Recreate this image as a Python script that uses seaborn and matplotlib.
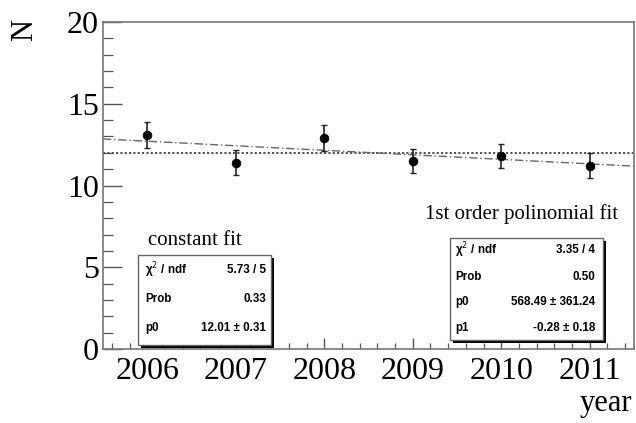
import matplotlib
matplotlib.use("Agg")
import matplotlib.pyplot as plt
import seaborn as sns
import numpy as np
import pandas as pd
from matplotlib.patches import Rectangle
from matplotlib.ticker import MultipleLocator

# ---- data ----
years = [2006, 2007, 2008, 2009, 2010, 2011]
counts = [13.1, 11.4, 12.9, 11.5, 11.8, 11.2]
errors = [0.80, 0.77, 0.78, 0.75, 0.76, 0.77]
const_p0 = 12.01
lin_p0 = 568.49
lin_p1 = -0.27706
xtick_labels = ["2006", "2007", "2008", "2009", "2010", "2011"]
const_stats = [("χ$^{2}$ / ndf", "5.73 / 5"), ("Prob", "0.33"), ("p0", "12.01 ± 0.31")]
lin_stats = [("χ$^{2}$ / ndf", "3.35 / 4"), ("Prob", "0.50"),
             ("p0", "568.49 ± 361.24"), ("p1", "-0.28 ± 0.18")]

sns.set_style("white")
W, H = 636, 423
fig = plt.figure(figsize=(W / 100, H / 100), dpi=100)
ax = fig.add_axes([103 / W, 1 - 349 / H, (634 - 103) / W, (349 - 22) / H])

df = pd.DataFrame({"year": years, "N": counts, "err": errors})
xfit = np.linspace(2005.5, 2011.5, 200)
fitdf = pd.DataFrame({"x": xfit, "const": np.full_like(xfit, const_p0),
                      "lin": lin_p0 + lin_p1 * xfit})

sns.lineplot(data=fitdf, x="x", y="const", ax=ax, color="#444444", lw=1.3,
             linestyle=(0, (1.2, 1.2)))
sns.lineplot(data=fitdf, x="x", y="lin", ax=ax, color="#666666", lw=1.0,
             linestyle=(0, (6, 2, 1, 2)))
ax.errorbar(df["year"], df["N"], yerr=df["err"], fmt="none", ecolor="#222222",
            elinewidth=1.2, capsize=2, capthick=1.0)
sns.scatterplot(data=df, x="year", y="N", ax=ax, color="black", s=40,
                edgecolor="black", zorder=5)

ax.set_xlim(2005.5, 2011.5)
ax.set_ylim(0, 20)
ax.set_xticks(years)
ax.set_xticklabels(xtick_labels)
ax.set_yticks([0, 5, 10, 15, 20])
ax.xaxis.set_minor_locator(MultipleLocator(0.2))
ax.yaxis.set_minor_locator(MultipleLocator(1))
ax.tick_params(axis="both", which="both", bottom=True, left=True, top=False,
               right=False, direction="in", color="#555555", labelcolor="black")
ax.tick_params(axis="both", which="major", labelsize=23, width=1.0)
ax.tick_params(axis="x", which="major", length=8, pad=6)
ax.tick_params(axis="y", which="major", length=14, pad=3)
ax.tick_params(axis="x", which="minor", length=4, width=0.9)
ax.tick_params(axis="y", which="minor", length=7, width=0.9)
for lab in ax.get_xticklabels() + ax.get_yticklabels():
    lab.set_fontfamily("Liberation Serif")
for s in ax.spines.values():
    s.set_color("#777777")
    s.set_linewidth(1.2)
ax.set_xlabel("")
ax.set_ylabel("")

fig.text(25 / W, 1 - 30 / H, "N", rotation=90, fontsize=22, family="Liberation Serif",
         ha="center", va="center", color="black")
fig.text(632 / W, 1 - 403 / H, "year", fontsize=22, family="Liberation Serif",
         ha="right", va="center", color="black")
fig.text(148 / W, 1 - 240 / H, "constant fit", fontsize=15, family="Liberation Serif",
         ha="left", va="center", color="black")
fig.text(618 / W, 1 - 214 / H, "1st order polinomial fit", fontsize=15,
         family="Liberation Serif", ha="right", va="center", color="black")


def statbox(x0, x1, ytop, ybot, rows, row_y, lab_x, val_x):
    sh = 3
    fig.patches.append(Rectangle(((x0 + sh) / W, 1 - (ybot + sh) / H),
                                 (x1 - x0) / W, (ybot - ytop) / H,
                                 transform=fig.transFigure, facecolor="black",
                                 edgecolor="none", zorder=10))
    fig.patches.append(Rectangle((x0 / W, 1 - ybot / H), (x1 - x0) / W,
                                 (ybot - ytop) / H, transform=fig.transFigure,
                                 facecolor="white", edgecolor="#666666", lw=1.0,
                                 zorder=11))
    for (lab, val), yy in zip(rows, row_y):
        fig.text(lab_x / W, 1 - yy / H, lab, fontsize=8.4, weight="bold",
                 family="Liberation Sans", ha="left", va="center", zorder=12,
                 color="black")
        fig.text(val_x / W, 1 - yy / H, val, fontsize=8.4, weight="bold",
                 family="Liberation Sans", ha="right", va="center", zorder=12,
                 color="black")


statbox(138, 271, 255, 345, const_stats, [270, 299, 328], 145, 266)
statbox(450, 603, 238, 340, lin_stats, [250, 277, 302, 328], 455, 595)

fig.savefig("out.png", dpi=100)
